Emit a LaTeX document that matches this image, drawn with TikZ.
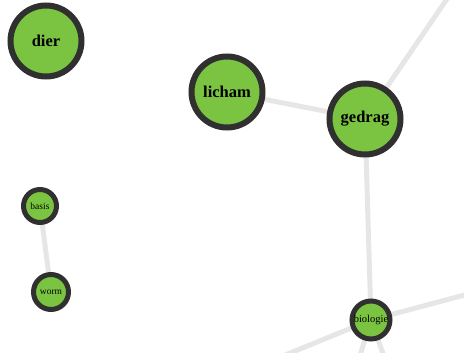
\documentclass[tikz,border=0pt]{standalone}
\usepackage{fontspec}
\setmainfont{Liberation Serif}
\usetikzlibrary{backgrounds}

\definecolor{topicgreen}{RGB}{122,196,66}
\definecolor{rimgray}{RGB}{48,48,48}
\definecolor{linkgray}{RGB}{230,230,230}

\tikzset{
    bigtopic/.style={circle, draw=rimgray, line width=6pt, fill=topicgreen,
        minimum size=71pt, inner sep=0pt, font=\fontsize{16.5}{16.5}\selectfont\bfseries},
    smalltopic/.style={circle, draw=rimgray, line width=5pt, fill=topicgreen,
        minimum size=#1, inner sep=0pt, font=\fontsize{9.5}{9.5}\selectfont},
    link/.style={draw=linkgray, line width=5pt}
}

\begin{document}
\begin{tikzpicture}[x=1pt, y=-1pt]
    \useasboundingbox (0,0) rectangle (464,353);
    \clip (0,0) rectangle (464,353);

    % Draw topics
    \node[bigtopic] (dier) at (46,41) {dier};
    \node[bigtopic] (licham) at (227,92) {licham};
    \node[bigtopic] (gedrag) at (365,119) {gedrag};
    \node[smalltopic=33pt] (basis) at (40,206) {basis};
    \node[smalltopic=35pt] (worm) at (51,292) {worm};
    \node[smalltopic=38pt, font=\fontsize{10.5}{10.5}\selectfont] (biologie) at (371,320) {biologie};

    % Loose ends outside the frame
    \coordinate (up) at (449,-4);
    \coordinate (right) at (472,293);
    \coordinate (downleft) at (278,358);
    \coordinate (downa) at (358,362);
    \coordinate (downb) at (386,362);

    % Draw links
    \begin{scope}[on background layer]
        \draw[link] (licham.center) -- (gedrag.center);
        \draw[link] (gedrag.center) -- (up);
        \draw[link] (gedrag.center) -- (biologie.center);
        \draw[link] (biologie.center) -- (right);
        \draw[link] (biologie.center) -- (downleft);
        \draw[link] (biologie.center) -- (downa);
        \draw[link] (biologie.center) -- (downb);
        \draw[link] (basis.center) -- (worm.center);
    \end{scope}
\end{tikzpicture}
\end{document}
